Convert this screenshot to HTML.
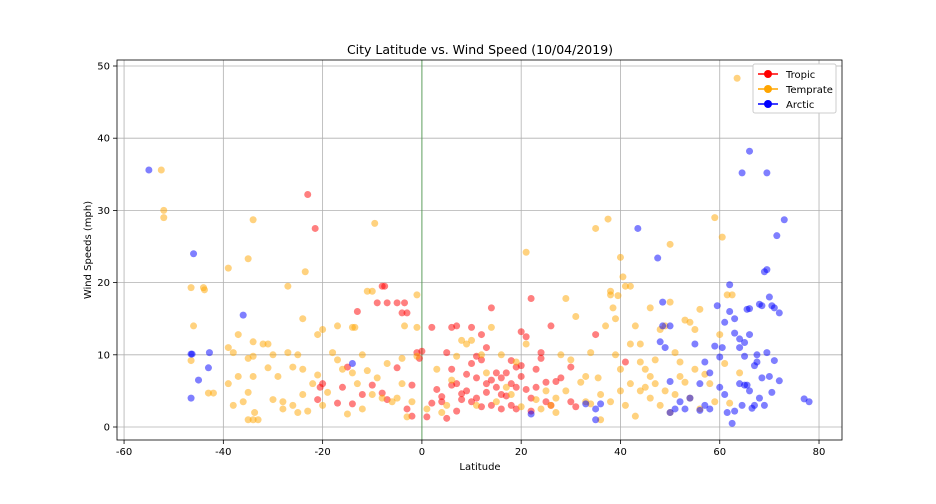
<!DOCTYPE html>
<html><head><meta charset="utf-8"><style>
body{margin:0;background:#fff;}
svg{display:block;font-family:"DejaVu Sans","Liberation Sans",sans-serif;}
</style></head><body>
<svg id="chart" width="936" height="504">
<rect width="936" height="504" fill="#fff"/>
<text x="480" y="54" text-anchor="middle" font-size="12.5">City Latitude vs. Wind Speed (10/04/2019)</text>
<text x="480" y="470" text-anchor="middle" font-size="10">Latitude</text>
<text transform="translate(91,250) rotate(-90)" text-anchor="middle" font-size="10">Wind Speeds (mph)</text>
<g id="grid"></g><g id="pts"></g><g id="ticks"></g>
<rect x="117" y="60" width="725" height="380" fill="none" stroke="#000" stroke-width="0.8"/>
<g>
<rect x="753" y="64" width="83" height="49" fill="#fff" stroke="#ccc" rx="2"/>
<g><line x1="758" y1="74" x2="778" y2="74" stroke="red" stroke-width="1.5"/><circle cx="768" cy="74" r="4" fill="red"/><text x="786" y="78" font-size="10">Tropic</text></g>
<g><line x1="758" y1="89" x2="778" y2="89" stroke="orange" stroke-width="1.5"/><circle cx="768" cy="89" r="4" fill="orange"/><text x="786" y="93" font-size="10">Temprate</text></g>
<g><line x1="758" y1="104" x2="778" y2="104" stroke="blue" stroke-width="1.5"/><circle cx="768" cy="104" r="4" fill="blue"/><text x="786" y="108" font-size="10">Arctic</text></g>
</g>
</svg>
<script>
const xTicks=[-60,-40,-20,0,20,40,60,80];
const yTicks=[0,10,20,30,40,50];
const tropic=[[-23,32.2],[-21.5,27.5],[-13,16],[-8,19.5],[-7.5,19.5],[-9,17.2],[-7,17.2],[-5,17.2],[-3.5,17.2],[-4,15.8],[-3,15.8],[-15,8.3],[-20,6],[-20.5,5.5],[-21,3.8],[-16,5.5],[-14,3.2],[-10,5.8],[-8,4.7],[-7,3.8],[-2,5.8],[-1,10.3],[0,10.5],[-5,8.2],[-3,2.5],[-2,1.5],[-0.5,9.5],[2,13.8],[5,10.3],[6,13.8],[7,14],[10,13.8],[11,9.8],[12,12.8],[14,16.5],[18,9.2],[20,13.2],[21,12.5],[22,17.8],[26,14],[30,8.3],[35,12.8],[41,9],[3,5.2],[4,3.5],[5,1.2],[6,8],[7,6],[8,3.8],[9,5],[10,3.5],[11,4],[12,2.8],[13,6],[14,3],[15,5.5],[16,6.8],[17,4.3],[18,6],[19,2.5],[20,8.5],[21,5.2],[22,2.2],[23,8],[24,10.3],[25,3.5],[7,2.2],[9,7.3],[12,9.3],[13,11],[15,7.5],[16,2.5],[17,7.5],[19,5.5],[20,7],[22,4],[24,9.5],[27,6.3],[28,6.8],[30,3.5],[31,2.8],[18,3],[-12,4.5],[-17,3.3],[1,1.4],[8,4.6],[13,4.8],[25,6.2],[4,4.2],[6,5.8],[10,8.8],[14,6.5],[16,4.5],[19,8.3],[23,5.5],[26,3],[2,3.3],[11,6.8]];
const temprate=[[-52.5,35.6],[-52,30],[-52,29],[-34,28.7],[-23.5,21.5],[-35,23.3],[-39,22],[-46.5,19.3],[-44,19.3],[-43.8,19],[-27,19.5],[-13.5,13.8],[-9.5,28.2],[-10,18.8],[-11,18.8],[-1,18.3],[-46,14],[-37,12.8],[-39,11],[-38,10.3],[-34,11.8],[-32,11.5],[-35,9.5],[-34,9.8],[-31,11.5],[-27,10.3],[-25,10],[-24,15],[-21,12.8],[-20,13.5],[-17,14],[-14,13.8],[-12,10],[-4,9.5],[-3.5,14],[-1,13.8],[-38,3],[-36,3.5],[-35,4.8],[-34,7],[-31,8.2],[-30,3.8],[-29,7],[-28,3.5],[-26,3],[-25,2],[-24,4.5],[-23,2.2],[-22,6],[-21,7.2],[-20,3],[-18,10.3],[-17,9.3],[-16,8],[-15,1.8],[-14,7.5],[-13,6],[-12,2.5],[-11,7.8],[-10,4.5],[-9,6.8],[-8,4],[-7,8.8],[-6,3.5],[-5,4],[-4,6],[-3,1.4],[-2,3.5],[-1,9.8],[-33,1],[-34,1],[-35,1],[-42,4.7],[-43,4.7],[-46.5,9.2],[-33.7,2],[-28,2.5],[-26,8.3],[-24,8],[-37,7],[-39,6],[1,2.5],[3,8],[4,2],[6,6.5],[8,12],[9,11.5],[10,12],[11,3],[12,10],[13,7.5],[14,13.8],[16,10],[17,5.5],[19,9],[20,2.8],[21,24.2],[21,11.5],[23,3.8],[24,2.5],[25,5],[26,3],[27,4],[28,10],[29,17.8],[30,9.3],[31,15.3],[32,6.2],[33,3.5],[34,10.3],[35,27.5],[35.5,6.8],[36,4.5],[37,14],[37.5,28.8],[38,18.3],[38,18.8],[38.5,16.5],[39,15],[39.5,18.2],[40,23.5],[40.5,20.8],[41,19.5],[42,19.5],[42,11.5],[43,14],[44,11.5],[45,5.5],[46,16.5],[47,9.3],[48,13.5],[49,14],[50,25.3],[50,17.3],[51,10.3],[52,7],[53,14.8],[54,14.5],[55,13.5],[56,16.3],[57,7.3],[59,29],[60,12.8],[60.5,26.3],[61.5,18.3],[62.5,18.3],[63.5,48.3],[64,7.5],[38,3.5],[39,10],[40,8],[41,3],[42,6],[43,1.5],[44,5],[45,8],[46,4],[47,6],[48,3],[50,2],[51,4.5],[52,9],[53,6.2],[54,4],[55,8],[56,2.5],[58,6],[59,3.5],[36,1],[34,3.2],[33,7],[61,8.8],[62,3.3],[5,3],[7,9.8],[15,3.5],[18,4.5],[27,2],[29,5],[40,5],[44,9],[46,7],[49,5],[-30,10],[-19,4.8]];
const arctic=[[-55,35.6],[-46,24],[-36,15.5],[-46.5,10.1],[-46.3,10.1],[-42.8,10.3],[-43,8.2],[-45,6.5],[-46.5,4],[-14,8.8],[22,1.8],[33,3.2],[35,1],[35,2.5],[36,3.2],[43.5,27.5],[47.5,23.4],[48.5,17.3],[48.5,14],[50,14],[48,11.8],[49,11],[50,6.3],[50,2],[51,2.5],[52,3.5],[53,2.5],[54,4],[55,11.5],[56,6],[57,9],[58,2.5],[59,11.2],[60,9.7],[60.5,11],[61,14.5],[62,16],[63,15],[63,13],[64,12.2],[64,11],[65,9.8],[65.5,16.3],[66,16.4],[66,12.8],[67,8.5],[67.5,10],[68,17],[68.5,16.8],[69,21.5],[69.5,21.8],[70,18],[70.5,16.8],[71,16.5],[72,15.8],[73,28.7],[71.5,26.5],[66,38.2],[64.5,35.2],[69.5,35.2],[62,19.7],[59.5,16.8],[60,5.5],[61,4.5],[61.5,2],[62.5,0.5],[63,2.2],[64,6],[65,5.8],[65.5,5.8],[66,5],[67,3],[68,4],[69,3],[70,7],[70.5,4.8],[71,9.2],[72,6.4],[77,3.9],[78,3.5],[58,7.5],[57,3],[56,2.3],[64.5,3],[66.5,2.6],[68.5,6.8],[69.5,10.3],[65,11.7],[67.5,9]];
const NS="http://www.w3.org/2000/svg";
const X=v=>421.9+v*4.964;
const Y=v=>427-v*7.22;
const grid=document.getElementById('grid'),ticks=document.getElementById('ticks'),pts=document.getElementById('pts');
function mk(tag,attrs,parent){const e=document.createElementNS(NS,tag);for(const k in attrs)e.setAttribute(k,attrs[k]);parent.appendChild(e);return e;}
xTicks.forEach(t=>{
  const g=mk('line',{x1:X(t),x2:X(t),y1:60,y2:440,stroke:'#b0b0b0','stroke-width':0.8},grid);
  
  
  mk('line',{x1:X(t),x2:X(t),y1:440,y2:444,stroke:'#000','stroke-width':0.8},ticks);
  const tx=mk('text',{x:X(t),y:455,'text-anchor':'middle','font-size':10},ticks);tx.textContent=t;
  
  
});
yTicks.forEach(t=>{
  const g=mk('line',{x1:117,x2:842,y1:Y(t),y2:Y(t),stroke:'#b0b0b0','stroke-width':0.8},grid);
  
  
  mk('line',{x1:113,x2:117,y1:Y(t),y2:Y(t),stroke:'#000','stroke-width':0.8},ticks);
  const tx=mk('text',{x:110,y:Y(t)+3.5,'text-anchor':'end','font-size':10},ticks);tx.textContent=t;
  
  
});
const eq=mk('line',{x1:X(0),x2:X(0),y1:60,y2:440,stroke:'green','stroke-width':1,'stroke-opacity':0.5},grid);


function series(arr,color,name){arr.forEach(p=>{
  const c=mk('circle',{cx:X(p[0]),cy:Y(p[1]),r:3.5,fill:color,'fill-opacity':0.5},pts);
  
  
});}
series(tropic,'red','tropic-point');
series(temprate,'orange','temprate-point');
series(arctic,'blue','arctic-point');
</script>
</body></html>
